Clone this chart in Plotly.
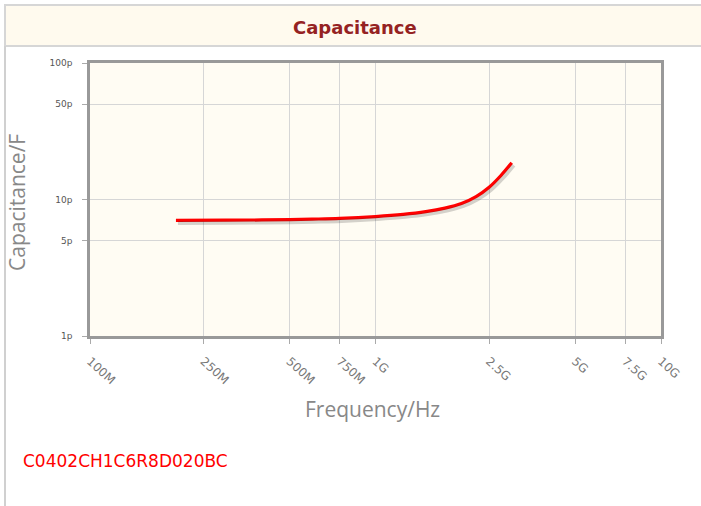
import plotly.graph_objects as go

# ---- data ----
freq_hz = [2.0e8, 3.0e8, 4.0e8, 5.0e8, 6.0e8, 7.5e8, 1.0e9, 1.25e9, 1.5e9,
           1.75e9, 2.0e9, 2.25e9, 2.5e9, 2.75e9, 3.0e9]
cap_pf = [7.02, 7.05, 7.08, 7.12, 7.18, 7.27, 7.50, 7.78, 8.15,
          8.65, 9.35, 10.5, 12.3, 15.0, 18.6]

x_tickvals = [1e8, 2.5e8, 5e8, 7.5e8, 1e9, 2.5e9, 5e9, 7.5e9, 1e10]
x_ticktext = ["100M", "250M", "500M", "750M", "1G", "2.5G", "5G", "7.5G", "10G"]
y_tickvals = [1, 5, 10, 50, 100]
y_ticktext = ["1p", "5p", "10p", "50p", "100p"]

title_text = "Capacitance"
x_title = "Frequency/Hz"
y_title = "Capacitance/F"
part_no = "C0402CH1C6R8D020BC"

# ---- geometry (pixels) ----
W, H = 701, 506
L, R, T, B = 90, 661, 63, 336


def px(x):
    return x / W


def py(y):
    return 1 - y / H


fig = go.Figure()

# shadow of the curve (same data, drawn on slightly shifted overlay axes)
fig.add_trace(go.Scatter(x=freq_hz, y=cap_pf, mode="lines",
                         line=dict(color="rgba(40,40,40,0.2)", width=4, shape="spline"),
                         xaxis="x2", yaxis="y2", hoverinfo="skip", showlegend=False))
fig.add_trace(go.Scatter(x=freq_hz, y=cap_pf, mode="lines",
                         line=dict(color="#ff0000", width=3.2, shape="spline"),
                         showlegend=False))

ytickfont = dict(family="DejaVu Sans", size=9, color="#555555")
xtickfont = dict(family="DejaVu Sans", size=12, color="#777777")
titlefont = dict(family="Open Sans", size=21, color="#888888")

fig.update_layout(
    width=W, height=H,
    margin=dict(l=0, r=0, t=0, b=0),
    paper_bgcolor="white",
    plot_bgcolor="rgba(0,0,0,0)",
    showlegend=False,
    xaxis=dict(type="log", range=[8, 10], domain=[px(L), px(R)],
               tickvals=x_tickvals, ticktext=x_ticktext, tickangle=42,
               tickfont=xtickfont, ticks="outside", ticklen=5, tickcolor="#aaaaaa",
               showgrid=True, gridcolor="#d6d6d6", gridwidth=1,
               showline=True, linecolor="#999999", linewidth=2.5, mirror=True,
               zeroline=False, automargin=False, ticklabelstandoff=6),
    yaxis=dict(type="log", range=[0, 2], domain=[py(B), py(T)],
               tickvals=y_tickvals, ticktext=y_ticktext,
               tickfont=ytickfont, ticks="outside", ticklen=5, tickcolor="#aaaaaa",
               showgrid=True, gridcolor="#d6d6d6", gridwidth=1,
               showline=True, linecolor="#999999", linewidth=2.5, mirror=True,
               zeroline=False, automargin=False, ticklabelstandoff=8),
    xaxis2=dict(type="log", range=[8 - 2 / 285.5, 10 - 2 / 285.5], domain=[px(L), px(R)],
                overlaying="x", visible=False),
    yaxis2=dict(type="log", range=[0 + 2.5 / 136.5, 2 + 2.5 / 136.5], domain=[py(B), py(T)],
                overlaying="y", visible=False, anchor="x2"),
)

shapes = [
    # header band
    dict(type="rect", xref="paper", yref="paper", x0=px(5), x1=px(702), y0=py(46), y1=py(5),
         fillcolor="#fffaee", line=dict(color="#d6d6d6", width=2), layer="below"),
    # left page border
    dict(type="line", xref="paper", yref="paper", x0=px(5), x1=px(5), y0=py(506), y1=py(46),
         line=dict(color="#d0d0d0", width=2), layer="below"),
    # plot box shadow
    dict(type="rect", xref="paper", yref="paper", x0=px(L + 3), x1=px(R + 3), y0=py(B + 3), y1=py(T + 3),
         fillcolor="#d4d4d4", line=dict(width=0), layer="below"),
    # plot box background
    dict(type="rect", xref="paper", yref="paper", x0=px(L), x1=px(R), y0=py(B), y1=py(T),
         fillcolor="#fffcf3", line=dict(width=0), layer="below"),
]
fig.update_layout(shapes=shapes)

fig.add_annotation(text="<b>" + title_text + "</b>", xref="paper", yref="paper",
                   x=px(355), y=py(27), showarrow=False, xanchor="center", yanchor="middle",
                   font=dict(family="DejaVu Sans", size=18, color="#952222"))
fig.add_annotation(text=y_title, xref="paper", yref="paper", textangle=-90,
                   x=px(17), y=py(203), showarrow=False, xanchor="center", yanchor="middle",
                   font=titlefont)
fig.add_annotation(text=x_title, xref="paper", yref="paper",
                   x=px(372), y=py(409), showarrow=False, xanchor="center", yanchor="middle",
                   font=titlefont)
fig.add_annotation(text=part_no, xref="paper", yref="paper",
                   x=px(21), y=py(461), showarrow=False, xanchor="left", yanchor="middle",
                   font=dict(family="DejaVu Sans", size=17, color="#ff0000"))

fig.write_html("out.html", config={"displayModeBar": False},
               post_script="document.body.style.margin='0';")
